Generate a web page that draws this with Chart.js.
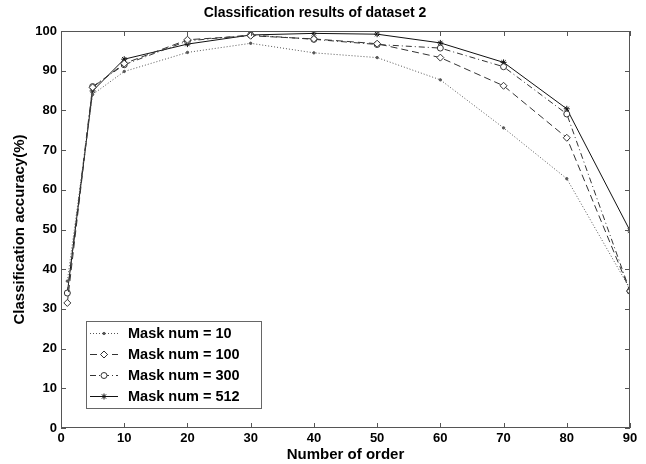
<!DOCTYPE html>
<html>
<head>
<meta charset="utf-8">
<script src="https://cdn.jsdelivr.net/npm/chart.js@4/dist/chart.umd.min.js"></script>
<style>
	html, body { margin: 0; padding: 0; background: #fff; }
	#wrap { width: 646px; height: 464px; }
</style>
</head>
<body>
<div id="wrap"><canvas id="lineChart" width="646" height="464"></canvas></div>
<script>
// accuracy per order for each mask count
const orders = [1, 5, 10, 20, 30, 40, 50, 60, 70, 80, 90];
const mask10 = [37, 84, 89.8, 94.6, 96.9, 94.5, 93.3, 87.7, 75.6, 62.8, 35];
const mask100 = [31.5, 85.8, 91.8, 97.8, 98.8, 98, 96.8, 93.3, 86.2, 73.1, 34.5];
const mask300 = [34, 86, 91.5, 97.5, 99, 97.9, 96.6, 95.7, 91, 79.1, 34.5];
const mask512 = [34, 84.9, 92.9, 96.7, 99, 99.4, 99.2, 97, 92.1, 80.4, 49.7];
const seriesNames = ['Mask num = 10', 'Mask num = 100', 'Mask num = 300', 'Mask num = 512'];

const FONT = 'Liberation Sans, Arial, sans-serif';

function points(values)
{
	return orders.map((o, i) => ({ x: o, y: values[i] }));
}

const styles = [
	{ color: '#555', dash: [1, 2], point: 'circle', radius: 1.2, fill: '#555' },
	{ color: '#333', dash: [7, 4], point: 'rectRot', radius: 3.5, fill: '#fff' },
	{ color: '#333', dash: [6, 3, 1, 3], point: 'circle', radius: 3, fill: '#fff' },
	{ color: '#111', dash: [], point: 'star', radius: 3, fill: '#111' }
];

const allValues = [mask10, mask100, mask300, mask512];

const datasets = allValues.map((vals, i) => ({
	label: seriesNames[i],
	data: points(vals),
	borderColor: styles[i].color,
	borderWidth: 1,
	borderDash: styles[i].dash,
	pointStyle: styles[i].point,
	pointRadius: styles[i].radius,
	pointBackgroundColor: styles[i].fill,
	pointBorderColor: styles[i].color,
	pointBorderWidth: 1,
	tension: 0
}));

// box, inward ticks and legend in matlab style
const framePlugin = {
	id: 'frame',
	afterDatasetsDraw(chart)
	{
		const c = chart.ctx;
		const a = chart.chartArea;
		const xs = chart.scales.x;
		const ys = chart.scales.y;
		c.save();
		c.strokeStyle = '#555';
		c.lineWidth = 1;
		c.setLineDash([]);
		c.strokeRect(a.left + 0.5, a.top + 0.5, a.right - a.left - 1, a.bottom - a.top - 1);
		c.beginPath();
		xs.ticks.forEach(t => {
			const px = Math.round(xs.getPixelForValue(t.value)) + 0.5;
			c.moveTo(px, a.bottom); c.lineTo(px, a.bottom - 5);
			c.moveTo(px, a.top); c.lineTo(px, a.top + 5);
		});
		ys.ticks.forEach(t => {
			const py = Math.round(ys.getPixelForValue(t.value)) + 0.5;
			c.moveTo(a.left, py); c.lineTo(a.left + 5, py);
			c.moveTo(a.right, py); c.lineTo(a.right - 5, py);
		});
		c.stroke();

		// legend box
		const lx = 86, ly = 321, lw = 175, lh = 87;
		c.fillStyle = '#fff';
		c.fillRect(lx, ly, lw, lh);
		c.strokeStyle = '#666';
		c.strokeRect(lx + 0.5, ly + 0.5, lw, lh);
		c.font = 'bold 14.5px ' + FONT;
		c.textBaseline = 'middle';
		c.textAlign = 'left';
		const rowY = [333, 354, 375, 396];
		chart.data.datasets.forEach((ds, i) => {
			const y = rowY[i] + 0.5;
			c.strokeStyle = ds.borderColor;
			c.setLineDash(ds.borderDash);
			c.beginPath();
			c.moveTo(90, y); c.lineTo(118, y);
			c.stroke();
			c.setLineDash([]);
			c.fillStyle = ds.pointBackgroundColor;
			c.strokeStyle = ds.pointBorderColor;
			Chart.helpers.drawPoint(c, {
				pointStyle: ds.pointStyle,
				radius: ds.pointRadius,
				borderWidth: 1,
				rotation: 0
			}, 104, y);
			c.fillStyle = '#000';
			c.fillText(ds.label, 128, rowY[i] + 1);
		});
		c.restore();
	}
};

const ctx = document.getElementById('lineChart').getContext('2d');

const chart = new Chart(ctx, {
	type: 'line',
	data: { datasets: datasets },
	plugins: [framePlugin],
	options: {
		responsive: false,
		animation: false,
		layout: { padding: { left: 0, right: 16, top: 0, bottom: 0 } },
		plugins: {
			legend: { display: false },
			tooltip: { enabled: false },
			title: {
				display: true,
				text: 'Classification results of dataset 2',
				color: '#000',
				font: { family: FONT, size: 14, weight: 'bold' },
				padding: { top: 5, bottom: 9.2 }
			}
		},
		scales: {
			x: {
				type: 'linear',
				min: 0,
				max: 90,
				grid: { display: false, drawTicks: false },
				border: { display: false },
				ticks: {
					stepSize: 10,
					color: '#000',
					padding: 3,
					maxRotation: 0,
					font: { family: FONT, size: 13, weight: 'bold' }
				},
				title: {
					display: true,
					text: 'Number of order',
					color: '#000',
					padding: 0,
					font: { family: FONT, size: 15, weight: 'bold' }
				},
				afterFit: s => { s.height = 36; }
			},
			y: {
				min: 0,
				max: 100,
				grid: { display: false, drawTicks: false },
				border: { display: false },
				ticks: {
					stepSize: 10,
					color: '#000',
					padding: 4,
					font: { family: FONT, size: 13, weight: 'bold' }
				},
				title: {
					display: true,
					text: 'Classification accuracy(%)',
					color: '#000',
					padding: { top: 11, bottom: 0 },
					font: { family: FONT, size: 15, weight: 'bold' }
				},
				afterFit: s => { s.width = 61; }
			}
		}
	}
});
</script>
</body>
</html>
